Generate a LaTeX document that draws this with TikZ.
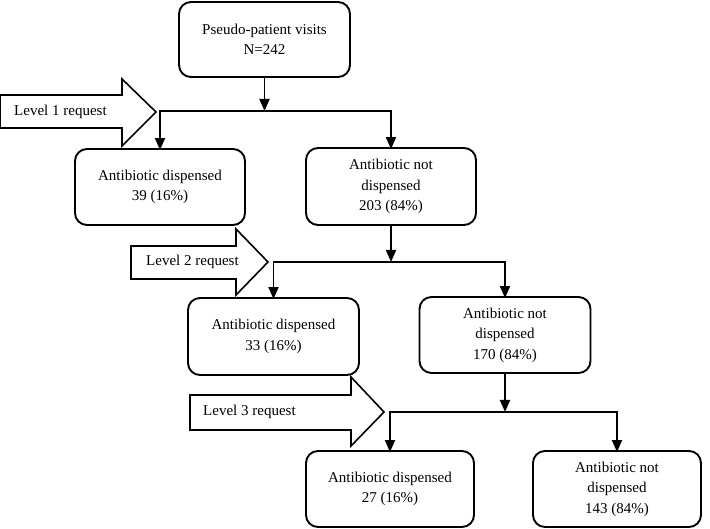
\documentclass[tikz,border=0pt]{standalone}
\usepackage{fontspec}
\setmainfont{Liberation Serif}
\usetikzlibrary{arrows.meta}
\begin{document}
\begin{tikzpicture}[x=1pt,y=-1pt,
  box/.style={draw, line width=1.9pt, rounded corners=12pt, align=center,
    inner sep=0pt, font=\fontsize{15}{20.5}\selectfont},
  conn/.style={line width=1.8pt},
  arr/.style={conn, -{Triangle[width=10pt,length=12pt]}},
  blockarrow/.style={draw, line width=1.6pt, fill=white, line join=miter},
  lvl/.style={font=\fontsize{15}{18}\selectfont, anchor=west, inner sep=0pt}]
\useasboundingbox (0,0) rectangle (710,529);

% boxes
\node[box, minimum width=171pt, minimum height=75pt] (top) at (264.5,39.5) {Pseudo-patient visits\\N=242};
\node[box, minimum width=170pt, minimum height=76pt] (d1) at (160,187) {Antibiotic dispensed\\39 (16\%)};
\node[box, minimum width=170pt, minimum height=77pt] (n1) at (391,186.5) {Antibiotic not\\dispensed\\203 (84\%)};
\node[box, minimum width=171pt, minimum height=77pt] (d2) at (273.5,336.5) {Antibiotic dispensed\\33 (16\%)};
\node[box, minimum width=171pt, minimum height=76pt] (n2) at (505,335) {Antibiotic not\\dispensed\\170 (84\%)};
\node[box, minimum width=168pt, minimum height=76pt] (d3) at (390,489) {Antibiotic dispensed\\27 (16\%)};
\node[box, minimum width=168pt, minimum height=76pt] (n3) at (617,489) {Antibiotic not\\dispensed\\143 (84\%)};

% junctions
\coordinate (j1) at (264.5,111);
\coordinate (j2) at (391,262);
\coordinate (j3) at (505,412);

% connectors
\draw[arr] (top.south) -- (j1);
\draw[arr] (j1) -| ([yshift=-2pt]d1.north);
\draw[arr] (j1) -| ([yshift=-2pt]n1.north);
\draw[arr] (n1.south) -- (j2);
\draw[arr] (j2) -| ([yshift=-2pt]d2.north);
\draw[arr] (j2) -| ([yshift=-2pt]n2.north);
\draw[arr] (n2.south) -- (j3);
\draw[arr] (j3) -| ([yshift=-2pt]d3.north);
\draw[arr] (j3) -| ([yshift=-2pt]n3.north);

% request arrows
\draw[blockarrow] (0,95) -- (122,95) -- (122,79) -- (156,112) -- (122,146) -- (122,128) -- (0,128) -- cycle;
\node[lvl] (l1) at (14,112) {Level 1 request};
\draw[blockarrow] (131,246) -- (236,246) -- (236,229) -- (268,262) -- (236,295) -- (236,279) -- (131,279) -- cycle;
\node[lvl] (l2) at (146,262) {Level 2 request};
\draw[blockarrow] (190,395) -- (351,395) -- (351,377) -- (384,412) -- (351,446) -- (351,430) -- (190,430) -- cycle;
\node[lvl] (l3) at (203,412) {Level 3 request};
\end{tikzpicture}
\end{document}
